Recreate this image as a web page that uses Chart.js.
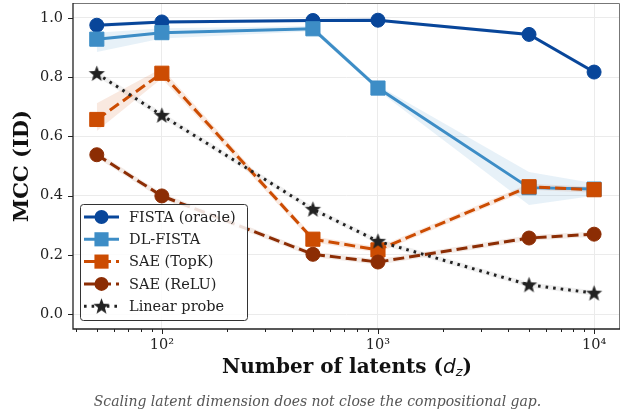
<!DOCTYPE html>
<html>
<head>
<meta charset="utf-8">
<script src="https://cdn.jsdelivr.net/npm/chart.js@4.4.1/dist/chart.umd.min.js"></script>
<style>
  body { margin: 0; background: #fff; }
  #wrap { position: relative; width: 625px; height: 413px; }
  #chart { position: absolute; left: 0; top: 0; }
  #xtitle {
    position: absolute; left: 73px; width: 548px; top: 354px;
    text-align: center; font: bold 20px "DejaVu Serif"; color: #111;
  }
  #xtitle i { font-family: "DejaVu Sans"; font-weight: normal; }
  #xtitle sub { font-size: 13px; vertical-align: -3px; line-height: 0; }
  #caption {
    position: absolute; left: 5px; width: 625px; top: 393px;
    text-align: center; font: italic 14px "DejaVu Serif"; color: #555;
  }
</style>
</head>
<body>
<div id="wrap">
  <canvas id="chart" width="625" height="413"></canvas>
  <div id="xtitle">Number of latents (<i>d<sub>z</sub></i>)</div>
  <div id="caption">Scaling latent dimension does not close the compositional gap.</div>
</div>
<script>
// data
const latents = [50, 100, 500, 1000, 5000, 10000];

const fista = [0.975, 0.986, 0.991, 0.992, 0.944, 0.817];
const dlFista = [0.928, 0.950, 0.963, 0.763, 0.427, 0.422];
const saeTopK = [0.657, 0.813, 0.253, 0.217, 0.430, 0.420];
const saeRelu = [0.538, 0.399, 0.202, 0.176, 0.257, 0.270];
const linearProbe = [0.812, 0.671, 0.354, 0.246, 0.099, 0.071];

// shaded spread around each line
const fistaLo = [0.968, 0.980, 0.986, 0.987, 0.938, 0.810];
const fistaHi = [0.982, 0.992, 0.996, 0.997, 0.950, 0.824];
const dlFistaLo = [0.885, 0.930, 0.955, 0.755, 0.368, 0.400];
const dlFistaHi = [0.950, 0.965, 0.972, 0.772, 0.480, 0.442];
const saeTopKLo = [0.618, 0.795, 0.243, 0.207, 0.420, 0.410];
const saeTopKHi = [0.712, 0.830, 0.263, 0.227, 0.440, 0.430];
const saeReluLo = [0.528, 0.389, 0.193, 0.167, 0.248, 0.261];
const saeReluHi = [0.548, 0.409, 0.211, 0.185, 0.266, 0.279];
const probeLo = [0.802, 0.661, 0.345, 0.237, 0.090, 0.062];
const probeHi = [0.822, 0.681, 0.363, 0.255, 0.108, 0.080];

const yTicks = [0, 0.2, 0.4, 0.6, 0.8, 1.0];
const xTicks = [40, 50, 60, 70, 80, 90, 100, 200, 300, 400, 500, 600, 700, 800, 900,
                1000, 2000, 3000, 4000, 5000, 6000, 7000, 8000, 9000, 10000];
const xTickLabels = { 100: "10²", 1000: "10³", 10000: "10⁴" };

const colFista = "#08469a";
const colDl = "#3d8dc6";
const colTopK = "#cc4c02";
const colRelu = "#8c2d04";
const colProbe = "#222222";

// where the plot box should sit
const area = { left: 73, top: 3, right: 620, bottom: 329 };

function toXY(vals) {
    return vals.map((v, i) => ({ x: latents[i], y: v }));
}

// filled five point star used as a marker
function makeStar(r, color) {
    const c = document.createElement("canvas");
    const s = Math.ceil(r * 2 + 2);
    c.width = s; c.height = s;
    const g = c.getContext("2d");
    g.fillStyle = color;
    g.beginPath();
    for (let k = 0; k < 10; k++) {
        const rad = k % 2 === 0 ? r : r * 0.42;
        const a = -Math.PI / 2 + k * Math.PI / 5;
        g.lineTo(s / 2 + rad * Math.cos(a), s / 2 + 0.5 + rad * Math.sin(a));
    }
    g.closePath();
    g.fill();
    return c;
}
const starImg = makeStar(8.5, colProbe);

function band(lo, hi, fillColor) {
    return [
        { label: "_lo", data: toXY(lo), borderWidth: 0, pointRadius: 0, fill: false, order: 20 },
        { label: "_hi", data: toXY(hi), borderWidth: 0, pointRadius: 0, fill: "-1",
          backgroundColor: fillColor, order: 20 }
    ];
}

const series = [
    { label: "FISTA (oracle)", data: fista, color: colFista, style: "circle", radius: 7, dash: [], order: 5 },
    { label: "DL-FISTA", data: dlFista, color: colDl, style: "rect", radius: 10, dash: [], order: 4 },
    { label: "SAE (TopK)", data: saeTopK, color: colTopK, style: "rect", radius: 10, dash: [11, 5], order: 3 },
    { label: "SAE (ReLU)", data: saeRelu, color: colRelu, style: "circle", radius: 7, dash: [11, 5], order: 2 },
    { label: "Linear probe", data: linearProbe, color: colProbe, style: starImg, radius: 8, dash: [2.6, 5], order: 1 }
];

const datasets = [
    ...band(fistaLo, fistaHi, "rgba(8,70,154,0.10)"),
    ...band(dlFistaLo, dlFistaHi, "rgba(61,141,198,0.12)"),
    ...band(saeTopKLo, saeTopKHi, "rgba(204,76,2,0.12)"),
    ...band(saeReluLo, saeReluHi, "rgba(140,45,4,0.10)"),
    ...band(probeLo, probeHi, "rgba(60,60,60,0.08)")
];
series.forEach(s => {
    datasets.push({
        label: s.label,
        data: toXY(s.data),
        borderColor: s.color,
        backgroundColor: s.color,
        borderWidth: 3,
        borderDash: s.dash,
        pointStyle: s.style,
        pointRadius: s.radius,
        pointBackgroundColor: s.color,
        pointBorderColor: s.color,
        pointBorderWidth: 1,
        fill: false,
        tension: 0,
        clip: false,
        order: s.order
    });
});

// spines, tick marks and the legend box
const framePlugin = {
    id: "frame",
    afterDatasetsDraw(chart) {
        const { ctx, chartArea: a, scales } = chart;
        ctx.save();
        ctx.strokeStyle = "#777";
        ctx.lineWidth = 1;
        ctx.beginPath();
        ctx.moveTo(a.left, a.top + 0.5); ctx.lineTo(a.right - 0.5, a.top + 0.5);
        ctx.lineTo(a.right - 0.5, a.bottom);
        ctx.stroke();
        ctx.strokeStyle = "#222";
        ctx.lineWidth = 1.3;
        ctx.beginPath();
        ctx.moveTo(a.left, a.top); ctx.lineTo(a.left, a.bottom); ctx.lineTo(a.right, a.bottom);
        ctx.stroke();
        ctx.lineWidth = 1;
        ctx.beginPath();
        yTicks.forEach(v => {
            const y = Math.round(scales.y.getPixelForValue(v)) + 0.5;
            ctx.moveTo(a.left - 5, y); ctx.lineTo(a.left, y);
        });
        xTicks.forEach(v => {
            const x = Math.round(scales.x.getPixelForValue(v)) + 0.5;
            const len = xTickLabels[v] ? 5 : 3;
            ctx.moveTo(x, a.bottom); ctx.lineTo(x, a.bottom + len);
        });
        ctx.stroke();
        ctx.restore();
    },
    afterDraw(chart) {
        const ctx = chart.ctx;
        const bx = 80, by = 204, bw = 167, bh = 116;
        ctx.save();
        ctx.fillStyle = "rgba(255,255,255,0.85)";
        ctx.strokeStyle = "#333";
        ctx.lineWidth = 1;
        ctx.beginPath();
        ctx.roundRect(bx + 0.5, by + 0.5, bw, bh, 3);
        ctx.fill();
        ctx.stroke();
        ctx.font = "14.5px 'DejaVu Serif'";
        ctx.textBaseline = "middle";
        series.forEach((s, i) => {
            const y = by + 13 + i * 22.3;
            ctx.strokeStyle = s.color;
            ctx.lineWidth = 3;
            ctx.setLineDash(s.dash);
            ctx.beginPath();
            ctx.moveTo(84, y); ctx.lineTo(119, y);
            ctx.stroke();
            ctx.setLineDash([]);
            ctx.fillStyle = s.color;
            ctx.beginPath();
            if (s.style === "circle") {
                ctx.arc(101.5, y, s.radius, 0, Math.PI * 2);
                ctx.fill();
            } else if (s.style === "rect") {
                const h = s.radius * Math.SQRT1_2;
                ctx.rect(101.5 - h, y - h, 2 * h, 2 * h);
                ctx.fill();
            } else {
                ctx.drawImage(s.style, 101.5 - s.style.width / 2, y - s.style.height / 2);
            }
            ctx.fillStyle = "#222";
            ctx.fillText(s.label, 129, y + 1);
        });
        ctx.restore();
    }
};

new Chart(document.getElementById("chart"), {
    type: "line",
    data: { datasets: datasets },
    options: {
        responsive: false,
        devicePixelRatio: 1,
        animation: false,
        layout: {
            autoPadding: false,
            padding: { top: area.top, right: 625 - area.right, left: 0, bottom: 0 }
        },
        plugins: { legend: { display: false }, tooltip: { enabled: false } },
        scales: {
            x: {
                type: "logarithmic",
                min: 38.8,
                max: 13180,
                afterFit: s => {
                    s.height = 413 - area.bottom;
                    s.paddingLeft = 0; s.paddingRight = 0;
                },
                afterBuildTicks: s => { s.ticks = xTicks.map(v => ({ value: v })); },
                border: { display: false },
                grid: {
                    drawTicks: false,
                    lineWidth: 1,
                    color: c => (c.tick && xTickLabels[c.tick.value]) ? "#ebebeb" : "rgba(0,0,0,0)"
                },
                ticks: {
                    autoSkip: false,
                    maxRotation: 0,
                    padding: 8,
                    color: "#222",
                    font: { family: "DejaVu Serif", size: 14.5 },
                    callback: v => xTickLabels[v] || ""
                }
            },
            y: {
                min: -0.05,
                max: 1.05,
                afterFit: s => {
                    s.width = area.left;
                    s.paddingTop = 0; s.paddingBottom = 0;
                },
                border: { display: false },
                grid: { drawTicks: false, color: "#ebebeb", lineWidth: 1 },
                ticks: {
                    stepSize: 0.2,
                    includeBounds: false,
                    padding: 10,
                    color: "#222",
                    font: { family: "DejaVu Serif", size: 14.5 },
                    callback: v => v.toFixed(1)
                },
                title: {
                    display: true,
                    text: "MCC (ID)",
                    color: "#111",
                    padding: { top: 10, bottom: 0 },
                    font: { family: "DejaVu Serif", size: 21, weight: "bold" }
                }
            }
        }
    },
    plugins: [framePlugin]
});
</script>
</body>
</html>
